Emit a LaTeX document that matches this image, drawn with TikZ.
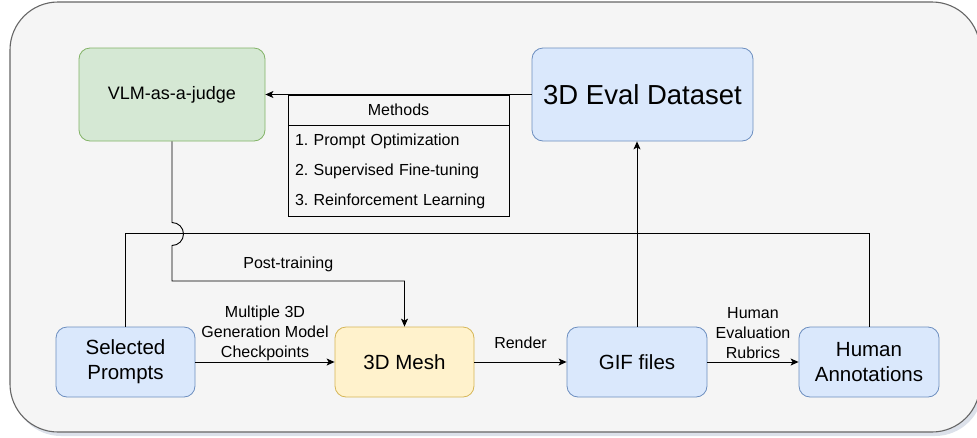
\documentclass[tikz,border=0pt]{standalone}
\usepackage{fontspec}
\setmainfont{Liberation Sans}
\usetikzlibrary{arrows.meta}
\frenchspacing
\definecolor{panelfill}{HTML}{F5F5F5}
\definecolor{paneldraw}{HTML}{666666}
\definecolor{panelshadow}{HTML}{DCE1EA}
\definecolor{bluefill}{HTML}{DAE8FC}
\definecolor{bluedraw}{HTML}{6C8EBF}
\definecolor{greenfill}{HTML}{D5E8D4}
\definecolor{greendraw}{HTML}{82B366}
\definecolor{yellowfill}{HTML}{FFF2CC}
\definecolor{yellowdraw}{HTML}{D6B656}

\begin{document}
\begin{tikzpicture}[x=1pt,y=-1pt]
        \tikzset{line/.style={line width=0.9pt}};
        \tikzset{arr/.style={line, -{Stealth[length=8pt,width=7pt,inset=2pt]}}};
        \tikzset{box/.style={draw, line width=0.8pt, rounded corners=11pt, align=center, inner sep=0pt}};
        \tikzset{bluebox/.style={box, draw=bluedraw, fill=bluefill}};
        \tikzset{lbl/.style={font=\fontsize{16}{20}\selectfont, align=center, inner sep=0pt}};
        \tikzset{boxfont/.style={font=\fontsize{20.5}{25}\selectfont}};

        \useasboundingbox (0,0) rectangle (977,437);
        \fill[panelshadow, rounded corners=48pt] (13,6) rectangle (983,436);
        \draw[paneldraw, fill=panelfill, line width=1.1pt, rounded corners=48pt] (10,2) rectangle (980,432);

        \node[box, draw=greendraw, fill=greenfill, minimum width=186pt, minimum height=93pt, font=\fontsize{18}{22}\selectfont] (vlm) at (172,94.5) {VLM-as-a-judge};
        \node[bluebox, minimum width=221pt, minimum height=93pt, font=\fontsize{27.5}{33}\selectfont] (evalset) at (642.5,94.5) {3D Eval Dataset};

        \node[draw, line, minimum width=221pt, minimum height=30pt, inner sep=0pt, font=\fontsize{16}{20}\selectfont] (methods) at (398.5,110) {Methods};
        \node[draw, line, anchor=north, minimum width=221pt, minimum height=91pt, inner sep=0pt, text width=207pt, align=left, font=\fontsize{16}{30}\selectfont] (methodlist) at (methods.south) {1. Prompt Optimization\\2. Supervised Fine-tuning\\3. Reinforcement Learning};

        \node[bluebox, boxfont, minimum width=139pt, minimum height=70pt] (prompts) at (125.5,362) {Selected\\Prompts};
        \node[box, boxfont, draw=yellowdraw, fill=yellowfill, minimum width=139pt, minimum height=70pt] (mesh) at (404.5,362) {3D Mesh};
        \node[bluebox, boxfont, minimum width=140pt, minimum height=70pt] (gif) at (637,362) {GIF files};
        \node[bluebox, boxfont, minimum width=140pt, minimum height=70pt] (annot) at (869,362) {Human\\Annotations};

        \draw[arr] (evalset.west) -- (vlm.east);
        \draw[line] (prompts.north) -- ++(0,-93) -| (annot.north);
        \draw[arr] (vlm.south) -- (172,222.5) arc[start angle=-90, end angle=90, radius=11.5] -- (172,281) -| node[lbl, pos=0.25, yshift=17pt] {Post-training} (mesh.north);
        \draw[arr] (gif.north) -- (gif.north |- evalset.south);

        \draw[arr] (prompts) -- node[lbl, midway, yshift=29pt] {Multiple 3D\\Generation Model\\Checkpoints} (mesh);
        \draw[arr] (mesh) -- node[lbl, midway, yshift=19pt] {Render} (gif);
        \draw[arr] (gif) -- node[lbl, midway, yshift=29pt] {Human\\Evaluation\\Rubrics} (annot);
    \end{tikzpicture}
\end{document}
